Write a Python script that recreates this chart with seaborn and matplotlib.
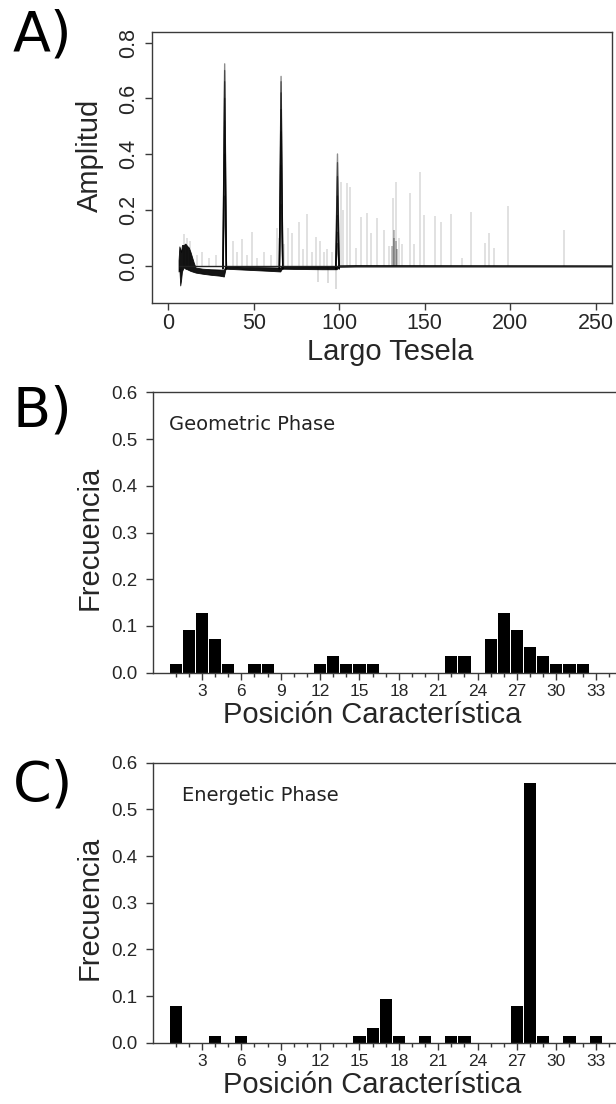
import numpy as np
import matplotlib
matplotlib.use("Agg")
import matplotlib.pyplot as plt
import seaborn as sns

# ---------------- data ----------------
# Panel A: dense dark band of overlapping spectra (envelope)
band_x  = [6, 6.5, 7, 7.5, 8, 9, 10, 11, 12, 13, 14, 15, 16, 20, 25, 30, 32.5,
           33.5, 40, 50, 60, 65.5, 66.5, 75, 90, 98.5, 99.5, 110, 260]
band_hi = [0.02, 0.07, 0.06, 0.05, 0.075, 0.075, 0.08, 0.072, 0.066, 0.05, 0.03,
           0.01, -0.006, -0.01, -0.012, -0.013, -0.014, 0.0, -0.002, -0.004,
           -0.005, -0.006, 0.0, -0.001, -0.002, -0.002, 0.002, 0.003, 0.002]
band_lo = [-0.02, -0.01, -0.07, -0.05, -0.02, -0.005, -0.01, -0.012, -0.015,
           -0.018, -0.02, -0.022, -0.024, -0.028, -0.032, -0.035, -0.038, -0.01,
           -0.012, -0.015, -0.018, -0.02, -0.01, -0.011, -0.012, -0.012, -0.003,
           -0.002, -0.002]

# main harmonic peaks (several overlapping spectra each)
main_peak_pos = [33, 66, 99]
main_peak_heights = [
    [0.724, 0.70, 0.66, 0.60, 0.52, 0.40, 0.25],
    [0.679, 0.66, 0.62, 0.56, 0.48, 0.36, 0.22],
    [0.401, 0.37, 0.32, 0.25, 0.18, 0.12, 0.08],
]
# medium grey cluster near the 4th harmonic
mid_peak_x = [131, 132, 132, 133, 134]
mid_peak_y = [0.07, 0.13, 0.10, 0.09, 0.06]

# faint individual spikes
faint_x = [9, 11, 13, 17, 20, 24, 28, 38, 40, 43, 46, 49, 52, 56, 60,
           63.5, 64.5, 68, 70, 72.5, 76.5, 79, 81, 84, 86.5, 88.5, 91, 93, 96,
           101, 102, 104.3, 106.4, 109.7, 113, 116.5, 118.5, 122.4, 126.3, 129,
           131.5, 133.5, 135, 137, 141.5, 144, 147.4, 149.7, 156.2, 159.5, 165.3,
           171.6, 177.4, 185.4, 187.8, 190.7, 198.5, 231.7]
faint_y = [0.115, 0.10, 0.09, 0.04, 0.05, 0.03, 0.04, 0.09, 0.05, 0.095, 0.04,
           0.123, 0.03, 0.05, 0.04,
           0.135, 0.10, 0.08, 0.135, 0.117, 0.159, 0.06, 0.185, 0.05, 0.105,
           0.09, 0.05, 0.06, 0.05,
           0.30, 0.20, 0.296, 0.284, 0.065, 0.177, 0.189, 0.117, 0.171, 0.129,
           0.07,
           0.243, 0.299, 0.10, 0.08, 0.26, 0.08, 0.338, 0.183, 0.179, 0.159,
           0.186,
           0.027, 0.192, 0.083, 0.119, 0.063, 0.215, 0.129]
dip_x = [87.8, 93.7, 98]
dip_y = [-0.056, -0.062, -0.084]

# Panels B and C: frequency of each feature position
positions = list(range(1, 35))
geometric = [0.018, 0.091, 0.127, 0.073, 0.018, 0.0, 0.018, 0.018, 0.0, 0.0,
             0.0, 0.018, 0.036, 0.018, 0.018, 0.018, 0.0, 0.0, 0.0, 0.0,
             0.0, 0.036, 0.036, 0.0, 0.073, 0.127, 0.091, 0.055, 0.036, 0.018,
             0.018, 0.018, 0.0, 0.0]
energetic = [0.079, 0.0, 0.0, 0.014, 0.0, 0.014, 0.0, 0.0, 0.0, 0.0,
             0.0, 0.0, 0.0, 0.0, 0.014, 0.031, 0.094, 0.014, 0.0, 0.014,
             0.0, 0.014, 0.014, 0.0, 0.0, 0.0, 0.079, 0.556, 0.014, 0.0,
             0.014, 0.0, 0.014, 0.0]

a_xticks = [0, 50, 100, 150, 200, 250]
a_yticks = [0.0, 0.2, 0.4, 0.6, 0.8]
bc_xticks = [3, 6, 9, 12, 15, 18, 21, 24, 27, 30, 33]
bc_yticks = [0.0, 0.1, 0.2, 0.3, 0.4, 0.5, 0.6]

# ---------------- style ----------------
sns.set_style("ticks")
plt.rcParams["font.family"] = ["Liberation Sans", "DejaVu Sans"]
SPINE = "#3a3a3a"

W, H = 616, 1104
fig = plt.figure(figsize=(W / 100, H / 100), dpi=100)


def px_axes(left, top, right, bottom):
    return fig.add_axes([left / W, 1 - bottom / H, (right - left) / W, (bottom - top) / H])


def style_spines(ax, right=True):
    for name, sp in ax.spines.items():
        sp.set_color(SPINE)
        sp.set_linewidth(1.0)
    ax.spines["right"].set_visible(right)


# ---------------- Panel A ----------------
axA = px_axes(151.7, 32.3, 612.3, 303.3)
axA.fill_between(band_x, band_lo, band_hi, color="black", alpha=0.92, lw=0.6)
axA.vlines(faint_x, 0, faint_y, color="black", alpha=0.12, lw=1.4)
axA.vlines(dip_x, 0, dip_y, color="black", alpha=0.14, lw=1.4)
axA.vlines(mid_peak_x, 0, mid_peak_y, color="black", alpha=0.25, lw=1.4)
for p, hs in zip(main_peak_pos, main_peak_heights):
    for h in hs:
        sns.lineplot(x=[p - 1.0, p, p + 1.0], y=[-0.01, h, -0.01], color="black",
                     alpha=0.45, lw=1.0, ax=axA, sort=False, estimator=None)
axA.hlines(0, 6, 262, color="#222222", lw=1.0)
axA.set_xlim(-9.7, 259.8)
axA.set_ylim(-0.134, 0.837)
axA.set_xticks(a_xticks)
axA.set_yticks(a_yticks)
axA.set_yticklabels([f"{v:.1f}" for v in a_yticks])
axA.tick_params(axis="both", labelsize=15.5, length=5, width=1.0, color=SPINE,
                direction="out")
axA.tick_params(axis="x", pad=2)
axA.tick_params(axis="y", labelrotation=90, pad=4)
for lab in axA.get_yticklabels():
    lab.set_verticalalignment("center")
style_spines(axA)
axA.set_xlabel("Largo Tesela", fontsize=21)
axA.set_ylabel("Amplitud", fontsize=21)
axA.xaxis.set_label_coords(0.517, -0.209)
axA.xaxis.label.set_verticalalignment("baseline")
axA.yaxis.set_label_coords(-0.116, 0.545)
axA.yaxis.label.set_verticalalignment("baseline")


# ---------------- Panels B and C ----------------
def bar_panel(top, bottom, vals, note, note_x, note_y):
    ax = px_axes(152.5, top, 622.0, bottom)
    sns.barplot(x=positions, y=vals, native_scale=True, color="black",
                width=0.93, saturation=1, errorbar=None, linewidth=0, ax=ax)
    ax.set_xlim(-0.77, 35.0)
    ax.set_ylim(0, 0.6)
    ax.set_xticks(bc_xticks)
    ax.set_xticklabels([str(t) for t in bc_xticks])
    ax.set_xticks(positions, minor=True)
    ax.set_yticks(bc_yticks)
    ax.set_yticklabels([f"{v:.1f}" for v in bc_yticks])
    ax.tick_params(axis="x", which="major", labelsize=12.5, length=5, width=1.0,
                   color=SPINE, pad=3)
    ax.tick_params(axis="x", which="minor", length=3, width=1.0, color=SPINE)
    ax.tick_params(axis="y", labelsize=13.5, length=5, width=1.0, color=SPINE, pad=6)
    style_spines(ax, right=False)
    ax.set_xlabel("Posición Característica", fontsize=21)
    ax.set_ylabel("Frecuencia", fontsize=21)
    ax.xaxis.set_label_coords(0.467, -0.1807)
    ax.xaxis.label.set_verticalalignment("baseline")
    ax.yaxis.set_label_coords(-0.116, 0.48)
    ax.yaxis.label.set_verticalalignment("baseline")
    fig.text(note_x / W, 1 - note_y / H, note, fontsize=14, color="#222222",
             family="DejaVu Sans", ha="left", va="baseline")
    return ax


axB = bar_panel(392.3, 672.7, geometric, "Geometric Phase", 169, 430)
axC = bar_panel(762.7, 1042.7, energetic, "Energetic Phase", 181.7, 800.7)

# panel letters
for letter, yb in [("A)", 51), ("B)", 426), ("C)", 801)]:
    fig.text(13 / W, 1 - yb / H, letter, fontsize=40, family="DejaVu Sans",
             ha="left", va="baseline", color="black")

fig.savefig("out.png", dpi=100)
